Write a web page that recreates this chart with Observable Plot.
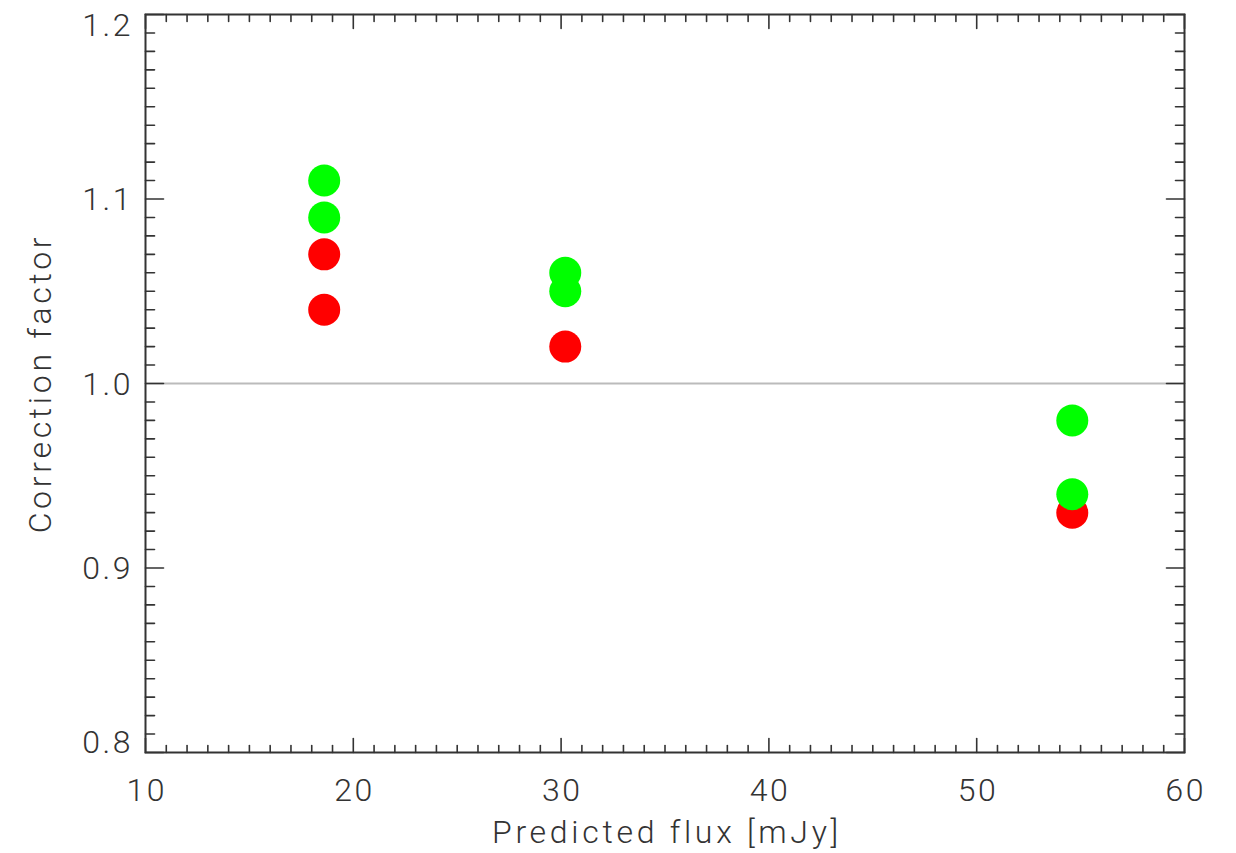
<!DOCTYPE html>
<html>
<head>
<meta charset="utf-8">
<script src="https://cdn.jsdelivr.net/npm/d3@7"></script>
<script src="https://cdn.jsdelivr.net/npm/@observablehq/plot@0.6"></script>
<style>
  body { margin: 0; background: #fff; }
  #chart svg { display: block; }
  #chart g[aria-label="x-axis tick label"] text,
  #chart g[aria-label="y-axis tick label"] text { letter-spacing: 2.5px; }
  #chart g[aria-label="text"] text { letter-spacing: 3.7px; }
</style>
</head>
<body>
<div id="chart"></div>
<script>
// Data
const redFlux   = [18.6, 18.6, 30.2, 54.6];
const redCorr   = [1.07, 1.04, 1.02, 0.93];
const greenFlux = [18.6, 18.6, 30.2, 30.2, 54.6, 54.6];
const greenCorr = [1.11, 1.09, 1.06, 1.05, 0.98, 0.94];

const xDomain = [10, 60];
const yDomain = [0.8, 1.2];
const xMajor = [10, 20, 30, 40, 50, 60];
const yMajorMid = [0.9, 1.0, 1.1];
const yMajorTop = [1.2];
const yMajorBottom = [0.8];
const yMajor = [...yMajorBottom, ...yMajorMid, ...yMajorTop];
const xMinor = d3.range(11, 60).filter(v => v % 10 !== 0);
const yMinor = d3.range(81, 120).filter(v => v % 10 !== 0).map(v => v / 100);
const refLine = [1.0];

const xLabel = "Predicted flux [mJy]";
const yLabel = "Correction factor";

const red = redFlux.map((x, i) => ({x, y: redCorr[i]}));
const green = greenFlux.map((x, i) => ({x, y: greenCorr[i]}));

const tickShape = { draw(context, l) { context.moveTo(0, 0); context.lineTo(0, -l); } };
const ink = "#333";
const FONT = "Roboto, 'Liberation Sans', sans-serif";

function ticksX(values, len, yVal, rot) {
  return Plot.vector(values, {x: d => d, y: () => yVal, length: () => len, rotate: rot,
    anchor: "start", shape: tickShape, stroke: ink, strokeWidth: 1.6});
}
function ticksY(values, len, xVal, rot) {
  return Plot.vector(values, {x: () => xVal, y: d => d, length: () => len, rotate: rot,
    anchor: "start", shape: tickShape, stroke: ink, strokeWidth: 1.6});
}
function yLabels(values, dy) {
  return Plot.axisY(values, {tickSize: 0, tickPadding: 12.5, tickFormat: d3.format(".1f"),
    fontSize: 32, fill: ink, label: null, dy});
}

const chart = Plot.plot({
  width: 1236,
  height: 853,
  marginLeft: 145,
  marginRight: 52,
  marginTop: 14,
  marginBottom: 101,
  style: {fontFamily: FONT, fontSize: "32px", fontWeight: 300, color: ink, background: "#fff"},
  x: {domain: xDomain, axis: null},
  y: {domain: yDomain, axis: null},
  length: {type: "identity"},
  marks: [
    Plot.ruleY(refLine, {stroke: "#bbb", strokeWidth: 2}),
    Plot.dot(red, {x: "x", y: "y", r: 16, fill: "#ff0000"}),
    Plot.dot(green, {x: "x", y: "y", r: 16, fill: "#00ff00"}),
    ticksX(xMajor, 14, 0.8, 0),
    ticksX(xMinor, 7, 0.8, 0),
    ticksX(xMajor, 14, 1.2, 180),
    ticksX(xMinor, 7, 1.2, 180),
    ticksY(yMajor, 18, 10, 90),
    ticksY(yMinor, 9, 10, 90),
    ticksY(yMajor, 18, 60, 270),
    ticksY(yMinor, 9, 60, 270),
    Plot.frame({stroke: ink, strokeWidth: 2}),
    Plot.axisX(xMajor, {tickSize: 0, tickPadding: 26, tickFormat: d3.format("d"),
      fontSize: 32, fill: ink, label: null, dx: 1.2}),
    yLabels(yMajorMid, 1),
    yLabels(yMajorTop, 11),
    yLabels(yMajorBottom, -10),
    Plot.text([xLabel], {frameAnchor: "bottom", lineAnchor: "top", dy: 68, dx: 2, fontSize: 32, fill: ink}),
    Plot.text([yLabel], {frameAnchor: "left", textAnchor: "middle", dx: -105, dy: 0, rotate: -90, fontSize: 32, fill: ink})
  ]
});
document.getElementById("chart").appendChild(chart);
</script>
</body>
</html>
